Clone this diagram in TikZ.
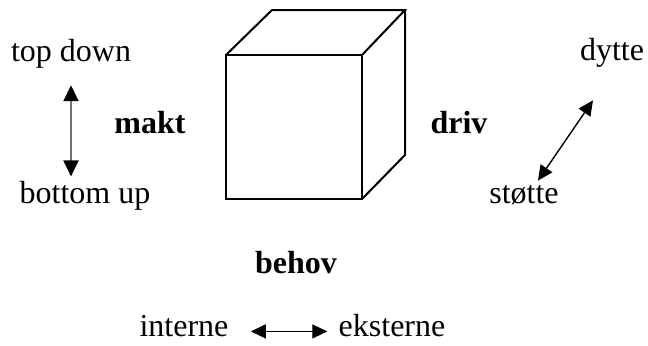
\documentclass[tikz,border=0pt]{standalone}
\usepackage{fontspec}
\setmainfont{Liberation Serif}
\usetikzlibrary{arrows.meta}

\begin{document}
\begin{tikzpicture}[
      x=0.5pt, y=-0.5pt,
      label/.style={inner sep=0pt, anchor=base, font=\fontsize{16}{19}\selectfont},
      dim/.style={label, font=\fontsize{16}{19}\selectfont\bfseries},
      arrow/.style={{Triangle[length=7.5pt,width=7pt]}-{Triangle[length=7.5pt,width=7pt]}, line width=0.7pt},
      cube/.style={line width=1pt, line join=miter}
    ]
    \useasboundingbox (0,0) rectangle (648,345);

    % the cube
    \draw[cube] (226,55) rectangle (362,199);
    \draw[cube] (226,55) -- (272,10) -- (405,10) -- (362,55);
    \draw[cube] (405,10) -- (405,155) -- (362,199);

    % axis labels
    \node[label] (topdown) at (71,61) {top down};
    \node[label] (bottomup) at (85,203) {bottom up};
    \node[dim] (makt) at (150,133) {makt};
    \node[dim] (driv) at (459,133) {driv};
    \node[label] (dytte) at (612,60) {dytte};
    \node[label] (stotte) at (524,203) {støtte};
    \node[dim] (behov) at (296,273) {behov};
    \node[label] (interne) at (184,336) {interne};
    \node[label] (eksterne) at (392,336) {eksterne};

    % double arrows
    \draw[arrow, line width=1pt, draw=black!55, {Triangle[length=8pt,width=7.5pt,black]}-{Triangle[length=8pt,width=7.5pt,black]},
          shorten <=8.5pt, shorten >=2pt] (topdown.south) -- (topdown.south |- bottomup.north);
    \draw[arrow] ([xshift=7pt, yshift=2pt]stotte.north) -- ([xshift=-9.5pt, yshift=-16.5pt]dytte.south);
    \draw[arrow, shorten <=11pt, shorten >=5.5pt] (interne.mid east) -- (eksterne.mid west);
  \end{tikzpicture}
\end{document}
